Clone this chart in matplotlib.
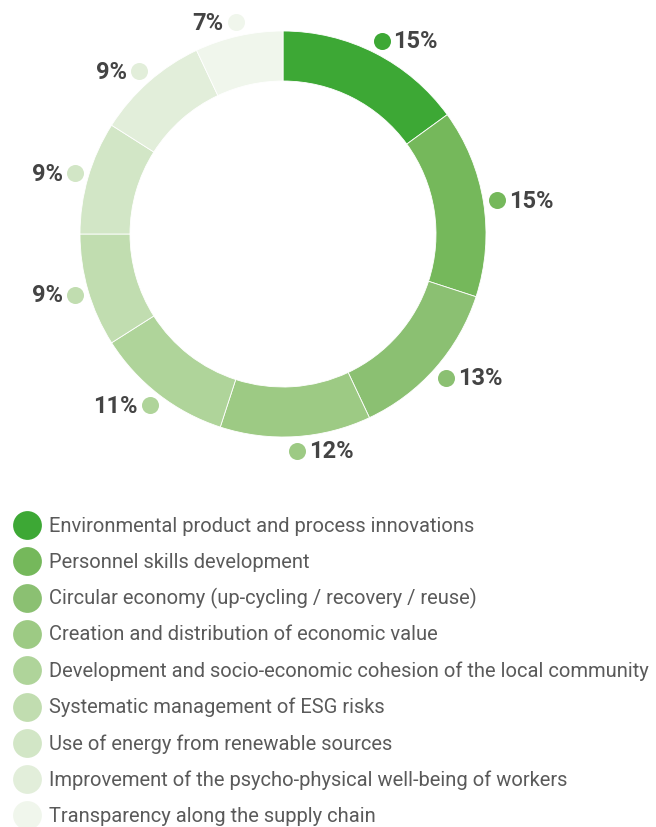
import matplotlib.pyplot as plt
import numpy as np

categories = [
    "Environmental product and process innovations",
    "Personnel skills development",
    "Circular economy (up-cycling / recovery / reuse)",
    "Creation and distribution of economic value",
    "Development and socio-economic cohesion of the local community",
    "Systematic management of ESG risks",
    "Use of energy from renewable sources",
    "Improvement of the psycho-physical well-being of workers",
    "Transparency along the supply chain",
]
values = [15, 15, 13, 12, 11, 9, 9, 9, 7]
colors = ["#3da835", "#75b85b", "#8bc072", "#9dca84", "#afd49a",
          "#c1ddb0", "#d2e6c6", "#e2eeda", "#f0f6ec"]

W, H = 656, 828
fig = plt.figure(figsize=(W / 100, H / 100), dpi=100)
ax = fig.add_axes([0, 0, 1, 1])

cx, cy = 283, H - 235
r_out, ring = 203, 50

ax.pie(values, colors=colors, startangle=90, counterclock=False,
       radius=r_out, center=(cx, cy), frame=True,
       wedgeprops=dict(width=ring, edgecolor="white", linewidth=0.6))
ax.set_xlim(0, W)
ax.set_ylim(0, H)
ax.set_aspect("equal")
ax.axis("off")

# value labels with a dot at the middle of each slice
total = sum(values)
cum = np.cumsum([0] + values[:-1])
r_lab = 217
for v, c0, col in zip(values, cum, colors):
    frac = (c0 + v / 2) / total
    ang = 2 * np.pi * frac  # clockwise from top
    px = cx + r_lab * np.sin(ang)
    py = cy + r_lab * np.cos(ang)
    ax.scatter(px, py, s=150, color=col, zorder=3, linewidths=0)
    right = np.sin(ang) >= 0
    ax.text(px + (12 if right else -12), py, f"{v}%",
            ha="left" if right else "right", va="center",
            fontsize=17, fontweight="bold", color="#444444",
            family="Roboto")

# legend
y0, dy = H - 526, 36.3
for i, (lab, col) in enumerate(zip(categories, colors)):
    y = y0 - i * dy
    ax.scatter(27, y, s=430, color=col, linewidths=0)
    ax.text(49, y, lab, ha="left", va="center", fontsize=14.5,
            color="#5a5a5a", family="Roboto")

fig.savefig("out.png", dpi=100)
